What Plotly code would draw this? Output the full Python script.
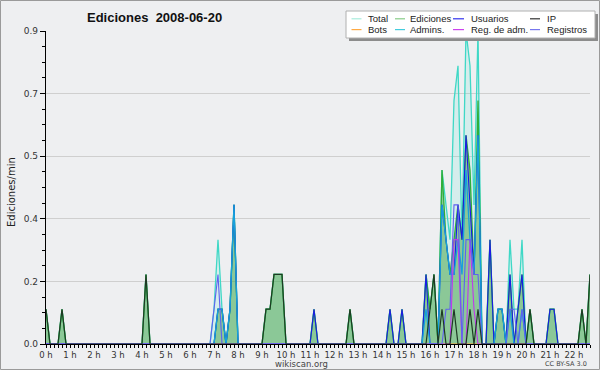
import plotly.graph_objects as go

# 10-minute bins, 2008-06-20 from 00:00 to 22:40 (137 bins)
horas = [i / 6 for i in range(137)]

# each row below = 2 hours (12 bins of 10 min); values in edits/min
total = [
    .1, 0, 0, 0, .1, 0, 0, 0, 0, 0, 0, 0,
    0, 0, 0, 0, 0, 0, 0, 0, 0, 0, 0, 0,
    0, .2, 0, 0, 0, 0, 0, 0, 0, 0, 0, 0,
    0, 0, 0, 0, 0, 0, .1, .3, .1, 0, .1, .4,
    0, 0, 0, 0, 0, 0, 0, .1, .1, .2, .2, .2,
    0, 0, 0, 0, 0, 0, 0, .1, 0, 0, 0, 0,
    0, 0, 0, 0, .1, 0, 0, 0, 0, 0, 0, 0,
    0, 0, .1, 0, 0, .1, 0, 0, 0, 0, 0, .2,
    .1, .2, 0, .5, .4, .3, .7, .8, .3, .9, .8, .4,
    .9, 0, 0, .3, 0, .1, .1, 0, .3, .1, .1, .3,
    0, .1, 0, 0, 0, 0, .1, .1, 0, 0, 0, 0,
    0, 0, .1, 0, .2,
]
ediciones = [
    .1, 0, 0, 0, .1, 0, 0, 0, 0, 0, 0, 0,
    0, 0, 0, 0, 0, 0, 0, 0, 0, 0, 0, 0,
    0, .2, 0, 0, 0, 0, 0, 0, 0, 0, 0, 0,
    0, 0, 0, 0, 0, 0, 0, .1, .1, 0, .1, .4,
    0, 0, 0, 0, 0, 0, 0, .1, .1, .2, .2, .2,
    0, 0, 0, 0, 0, 0, 0, .1, 0, 0, 0, 0,
    0, 0, 0, 0, .1, 0, 0, 0, 0, 0, 0, 0,
    0, 0, .1, 0, 0, .1, 0, 0, 0, 0, 0, .2,
    .1, .2, 0, .5, .3, .2, .3, .4, .3, .6, .5, .2,
    .7, 0, 0, .3, 0, .1, .1, 0, .2, 0, .1, .2,
    0, .1, 0, 0, 0, 0, .1, .1, 0, 0, 0, 0,
    0, 0, .1, 0, .2,
]
usuarios = [
    0, 0, 0, 0, 0, 0, 0, 0, 0, 0, 0, 0,
    0, 0, 0, 0, 0, 0, 0, 0, 0, 0, 0, 0,
    0, 0, 0, 0, 0, 0, 0, 0, 0, 0, 0, 0,
    0, 0, 0, 0, 0, 0, 0, .1, .1, 0, .1, .4,
    0, 0, 0, 0, 0, 0, 0, 0, 0, 0, 0, 0,
    0, 0, 0, 0, 0, 0, 0, .1, 0, 0, 0, 0,
    0, 0, 0, 0, 0, 0, 0, 0, 0, 0, 0, 0,
    0, 0, .1, 0, 0, .1, 0, 0, 0, 0, 0, .2,
    0, 0, 0, .4, .3, .2, .2, .4, .3, .6, .4, .2,
    .6, 0, 0, .3, 0, .1, .1, 0, .2, 0, .1, .2,
    0, 0, 0, 0, 0, 0, .1, .1, 0, 0, 0, 0,
    0, 0, 0, 0, 0,
]
ip = [
    .1, 0, 0, 0, .1, 0, 0, 0, 0, 0, 0, 0,
    0, 0, 0, 0, 0, 0, 0, 0, 0, 0, 0, 0,
    0, .2, 0, 0, 0, 0, 0, 0, 0, 0, 0, 0,
    0, 0, 0, 0, 0, 0, 0, 0, 0, 0, 0, 0,
    0, 0, 0, 0, 0, 0, 0, .1, .1, .2, .2, .2,
    0, 0, 0, 0, 0, 0, 0, 0, 0, 0, 0, 0,
    0, 0, 0, 0, .1, 0, 0, 0, 0, 0, 0, 0,
    0, 0, 0, 0, 0, 0, 0, 0, 0, 0, 0, 0,
    .1, .2, 0, .1, 0, 0, .1, 0, 0, 0, .1, 0,
    .1, 0, 0, 0, 0, 0, 0, 0, 0, 0, 0, 0,
    0, .1, 0, 0, 0, 0, 0, 0, 0, 0, 0, 0,
    0, 0, .1, 0, .2,
]
bots = [
    0, 0, 0, 0, 0, 0, 0, 0, 0, 0, 0, 0,
    0, 0, 0, 0, 0, 0, 0, 0, 0, 0, 0, 0,
    0, 0, 0, 0, 0, 0, 0, 0, 0, 0, 0, 0,
    0, 0, 0, 0, 0, 0, 0, 0, 0, 0, 0, 0,
    0, 0, 0, 0, 0, 0, 0, 0, 0, 0, 0, 0,
    0, 0, 0, 0, 0, 0, 0, 0, 0, 0, 0, 0,
    0, 0, 0, 0, 0, 0, 0, 0, 0, 0, 0, 0,
    0, 0, 0, 0, 0, 0, 0, 0, 0, 0, 0, 0,
    0, 0, 0, 0, 0, 0, 0, 0, 0, 0, 0, 0,
    0, 0, 0, 0, 0, 0, 0, 0, 0, 0, 0, 0,
    0, 0, 0, 0, 0, 0, 0, 0, 0, 0, 0, 0,
    0, 0, 0, 0, 0,
]
admins = [
    0, 0, 0, 0, 0, 0, 0, 0, 0, 0, 0, 0,
    0, 0, 0, 0, 0, 0, 0, 0, 0, 0, 0, 0,
    0, 0, 0, 0, 0, 0, 0, 0, 0, 0, 0, 0,
    0, 0, 0, 0, 0, 0, 0, .1, .1, 0, .1, .4,
    0, 0, 0, 0, 0, 0, 0, 0, 0, 0, 0, 0,
    0, 0, 0, 0, 0, 0, 0, 0, 0, 0, 0, 0,
    0, 0, 0, 0, 0, 0, 0, 0, 0, 0, 0, 0,
    0, 0, 0, 0, 0, 0, 0, 0, 0, 0, 0, .1,
    0, 0, 0, .4, .3, .2, .2, .3, .2, .5, .3, .2,
    .6, 0, 0, 0, 0, .1, .1, 0, .1, 0, 0, .1,
    0, 0, 0, 0, 0, 0, 0, 0, 0, 0, 0, 0,
    0, 0, 0, 0, 0,
]
reg_adm = [
    0, 0, 0, 0, 0, 0, 0, 0, 0, 0, 0, 0,
    0, 0, 0, 0, 0, 0, 0, 0, 0, 0, 0, 0,
    0, 0, 0, 0, 0, 0, 0, 0, 0, 0, 0, 0,
    0, 0, 0, 0, 0, 0, 0, 0, 0, 0, 0, 0,
    0, 0, 0, 0, 0, 0, 0, 0, 0, 0, 0, 0,
    0, 0, 0, 0, 0, 0, 0, 0, 0, 0, 0, 0,
    0, 0, 0, 0, 0, 0, 0, 0, 0, 0, 0, 0,
    0, 0, 0, 0, 0, 0, 0, 0, 0, 0, 0, 0,
    0, 0, 0, 0, 0, 0, .3, .3, 0, 0, .3, .1,
    0, 0, 0, 0, 0, 0, 0, 0, 0, 0, 0, 0,
    0, 0, 0, 0, 0, 0, 0, 0, 0, 0, 0, 0,
    0, 0, 0, 0, 0,
]
registros = [
    0, 0, 0, 0, 0, 0, 0, 0, 0, 0, 0, 0,
    0, 0, 0, 0, 0, 0, 0, 0, 0, 0, 0, 0,
    0, 0, 0, 0, 0, 0, 0, 0, 0, 0, 0, 0,
    0, 0, 0, 0, 0, 0, .1, .2, 0, 0, 0, 0,
    0, 0, 0, 0, 0, 0, 0, 0, 0, 0, 0, 0,
    0, 0, 0, 0, 0, 0, 0, 0, 0, 0, 0, 0,
    0, 0, 0, 0, 0, 0, 0, 0, 0, 0, 0, 0,
    0, 0, 0, 0, 0, 0, 0, 0, 0, 0, 0, 0,
    0, 0, 0, 0, .1, .1, .4, .4, 0, .3, .3, .2,
    .2, 0, 0, 0, 0, 0, 0, 0, .1, .1, 0, .1,
    0, 0, 0, 0, 0, 0, 0, 0, 0, 0, 0, 0,
    0, 0, 0, 0, 0,
]

hour_ticks = list(range(23))
hour_labels = [f"{h} h" for h in hour_ticks]
y_ticks = [0, 0.18, 0.36, 0.54, 0.72, 0.9]
y_labels = ["0.0", "0.2", "0.4", "0.5", "0.7", "0.9"]

legend_names = ["Total", "Ediciones", "Usuarios", "IP",
                "Bots", "Admins.", "Reg. de adm.", "Registros"]
colors = {
    "Total": "#3fd8c6", "Ediciones": "#2fae3a", "Usuarios": "#1a1ae6",
    "IP": "#1e3a24", "Bots": "#ff9933", "Admins.": "#16a0dc",
    "Reg. de adm.": "#c038ec", "Registros": "#6060f0",
}
legend_colors = {
    "Total": "#a8ecdc", "Ediciones": "#88cc88", "Usuarios": "#3333ee",
    "IP": "#333333", "Bots": "#ffaa44", "Admins.": "#44ccdd",
    "Reg. de adm.": "#cc44ee", "Registros": "#7777ee",
}

BG = "#eeeff1"
W, H = 600, 370
L, R, T, B = 46, 10, 31, 26
PW, PH = W - L - R, H - T - B


def xp(px):
    return (px - L) / PW


def yp(py):
    return (H - B - py) / PH


fig = go.Figure()

fig.add_trace(go.Scatter(x=horas, y=total, mode="lines", fill="tozeroy",
                         fillcolor="rgba(64,224,208,0.14)",
                         line=dict(color=colors["Total"], width=1.3),
                         name="Total", showlegend=False))
fig.add_trace(go.Scatter(x=horas, y=ediciones, mode="lines", fill="tozeroy",
                         fillcolor="rgba(55,160,55,0.47)",
                         line=dict(color=colors["Ediciones"], width=1.3),
                         name="Ediciones", showlegend=False))
fig.add_trace(go.Scatter(x=horas, y=bots, mode="lines",
                         line=dict(color=colors["Bots"], width=1.1),
                         name="Bots", showlegend=False))
fig.add_trace(go.Scatter(x=horas, y=usuarios, mode="lines",
                         line=dict(color=colors["Usuarios"], width=1.1),
                         name="Usuarios", showlegend=False))
fig.add_trace(go.Scatter(x=horas, y=admins, mode="lines",
                         line=dict(color=colors["Admins."], width=1.3),
                         name="Admins.", showlegend=False))
fig.add_trace(go.Scatter(x=horas, y=reg_adm, mode="lines",
                         line=dict(color=colors["Reg. de adm."], width=1.1),
                         name="Reg. de adm.", showlegend=False))
fig.add_trace(go.Scatter(x=horas, y=registros, mode="lines",
                         line=dict(color=colors["Registros"], width=1.1),
                         name="Registros", showlegend=False))
fig.add_trace(go.Scatter(x=horas, y=ip, mode="lines",
                         line=dict(color=colors["IP"], width=1.2),
                         name="IP", showlegend=False))

shapes = []
annotations = []

# outer frame
shapes.append(dict(type="rect", xref="paper", yref="paper",
                   x0=xp(0.5), x1=xp(W - 0.5), y0=yp(0.5), y1=yp(H - 0.5),
                   line=dict(color="#9a9a9a", width=1), layer="above"))

# legend box with shadow
shapes.append(dict(type="rect", xref="paper", yref="paper",
                   x0=xp(349), x1=xp(598), y0=yp(14), y1=yp(41),
                   fillcolor="#8c8c8c", line=dict(width=0), layer="above"))
shapes.append(dict(type="rect", xref="paper", yref="paper",
                   x0=xp(346), x1=xp(595), y0=yp(11), y1=yp(38),
                   fillcolor="#ffffff", line=dict(color="#b0b0b0", width=1),
                   layer="above"))

col_line = [(351.5, 361.5), (395, 405), (453, 464), (530, 540)]
col_text = [366, 408, 468.5, 544.5]
row_y = [18.8, 29.6]
for i, name in enumerate(legend_names):
    r, c = divmod(i, 4)
    y = row_y[r]
    shapes.append(dict(type="line", xref="paper", yref="paper",
                       x0=xp(col_line[c][0]), x1=xp(col_line[c][1]),
                       y0=yp(y), y1=yp(y),
                       line=dict(color=legend_colors[name], width=1.2),
                       layer="above"))
    annotations.append(dict(text=name, xref="paper", yref="paper",
                            x=xp(col_text[c]), y=yp(y), xanchor="left",
                            yanchor="middle", showarrow=False,
                            font=dict(family="Liberation Sans", size=9.5,
                                      color="#222222")))

# title
annotations.append(dict(text="<b>Ediciones  2008-06-20</b>", xref="paper",
                        yref="paper", x=xp(154), y=yp(17), xanchor="center",
                        yanchor="middle", showarrow=False,
                        font=dict(family="Liberation Sans", size=13,
                                  color="#111111")))
# y title
annotations.append(dict(text="Ediciones/min", xref="paper", yref="paper",
                        x=xp(11), y=yp(192), xanchor="center",
                        yanchor="middle", textangle=-90, showarrow=False,
                        font=dict(family="DejaVu Sans", size=10,
                                  color="#222222")))
annotations.append(dict(text="wikiscan.org", xref="paper", yref="paper",
                        x=xp(301), y=yp(364), xanchor="center",
                        yanchor="middle", showarrow=False,
                        font=dict(family="DejaVu Sans", size=8.5,
                                  color="#444444")))
annotations.append(dict(text="CC BY-SA 3.0", xref="paper", yref="paper",
                        x=xp(589), y=yp(364.5), xanchor="right",
                        yanchor="middle", showarrow=False,
                        font=dict(family="DejaVu Sans", size=6.5,
                                  color="#444444")))

fig.update_layout(
    width=W, height=H,
    margin=dict(l=L, r=R, t=T, b=B, pad=0),
    paper_bgcolor=BG, plot_bgcolor=BG,
    showlegend=False,
    shapes=shapes, annotations=annotations,
    font=dict(family="DejaVu Sans", size=9, color="#333333"),
)
fig.update_xaxes(
    range=[0, horas[-1]], tickvals=hour_ticks, ticktext=hour_labels,
    ticks="outside", ticklen=3, tickcolor="black", tickwidth=1,
    showline=True, linecolor="black", linewidth=1.2,
    showgrid=False, zeroline=False,
    tickfont=dict(family="DejaVu Sans", size=8.5, color="#333333"),
    minor=dict(dtick=1 / 6, tick0=0, ticks="outside", ticklen=3,
               tickcolor="black", showgrid=False),
)
fig.update_yaxes(
    range=[0, 0.9], tickvals=y_ticks, ticktext=y_labels,
    ticks="outside", ticklen=5, tickcolor="black", tickwidth=1,
    showline=True, linecolor="black", linewidth=1.2,
    showgrid=True, gridcolor="#cfcfcf", gridwidth=1, zeroline=False,
    tickfont=dict(family="DejaVu Sans", size=9, color="#333333"),
    minor=dict(dtick=0.045, tick0=0, ticks="outside", ticklen=3,
               tickcolor="black", showgrid=False),
)

fig.write_html(
    "out.html",
    config={"displayModeBar": False, "staticPlot": True},
    post_script="document.body.style.margin='0';document.body.style.padding='0';",
)
